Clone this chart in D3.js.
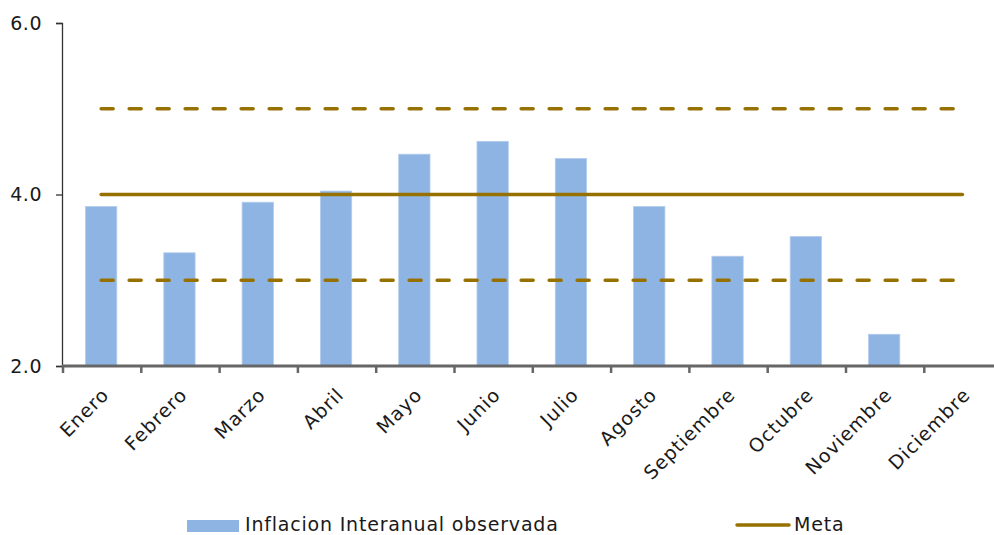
<!DOCTYPE html>
<html><head><meta charset="utf-8">
<script src="https://cdn.jsdelivr.net/npm/d3@7"></script>
<style>body{margin:0;background:#fff}svg{display:block}text{font-family:"DejaVu Sans",sans-serif;fill:#1a1a1a}</style>
</head><body><div id="chart"></div>
<script>
const months = ["Enero","Febrero","Marzo","Abril","Mayo","Junio","Julio","Agosto","Septiembre","Octubre","Noviembre","Diciembre"];
const inflacion = [3.86,3.32,3.91,4.04,4.47,4.62,4.42,3.86,3.28,3.51,2.37,2.0];
const meta = [4,4,4,4,4,4,4,4,4,4,4,4];
const upper = [5,5,5,5,5,5,5,5,5,5,5,5];
const lower = [3,3,3,3,3,3,3,3,3,3,3,3];
const yTicks = [2,4,6];
const seriesNames = ["Inflacion Interanual observada","Meta"];

const W=994,H=535;
const m={left:62,top:23,bottom:169};
const plotW=939.6, plotH=H-m.top-m.bottom;
const svg=d3.select("#chart").append("svg").attr("width",W).attr("height",H);

const x=d3.scaleBand().domain(months).range([m.left,m.left+plotW]).padding(0);
const y=d3.scaleLinear().domain([2,6]).range([m.top+plotH,m.top]);
const step=x.step(), bw=step*0.4;
const gold="#977100";

// bars
svg.append("g").selectAll("rect").data(months).join("rect")
  .attr("x",(d)=>x(d)+(step-bw)/2).attr("width",bw)
  .attr("y",(d,i)=>y(inflacion[i])).attr("height",(d,i)=>y(2)-y(inflacion[i]))
  .attr("fill","#8EB4E3").attr("stroke","#B4CCEC").attr("stroke-width",0.8);

const cx=d=>x(d)+step/2;
const line=arr=>d3.line().x((d,i)=>cx(months[i])).y(d=>y(d))(arr);
svg.append("path").attr("d",line(upper)).attr("fill","none").attr("stroke",gold).attr("stroke-width",3.5)
  .attr("stroke-dasharray","12 16").attr("stroke-linecap","round");
svg.append("path").attr("d",line(lower)).attr("fill","none").attr("stroke",gold).attr("stroke-width",3.5)
  .attr("stroke-dasharray","12 16").attr("stroke-linecap","round");
svg.append("path").attr("d",line(meta)).attr("fill","none").attr("stroke",gold).attr("stroke-width",3.5).attr("stroke-linecap","round");

// y axis
const ya=svg.append("g").attr("transform",`translate(${m.left},0)`)
  .call(d3.axisLeft(y).tickValues(yTicks).tickFormat(d3.format(".1f")).tickSize(6).tickPadding(14));
ya.select(".domain").attr("stroke","#333").attr("stroke-width",1.3);
ya.selectAll(".tick line").attr("stroke","#333").attr("stroke-width",1.3);
ya.selectAll("text").attr("font-size",19).attr("fill","#1a1a1a").attr("font-family","'DejaVu Sans',sans-serif").attr("letter-spacing",0.5);

// x axis
const xa=svg.append("g").attr("transform",`translate(0,${y(2)})`);
xa.append("line").attr("x1",m.left).attr("x2",m.left+plotW).attr("stroke","#666").attr("stroke-width",3);
xa.selectAll("line.t").data(months).join("line").attr("class","t")
  .attr("x1",d=>x(d)+1).attr("x2",d=>x(d)+1).attr("y1",0).attr("y2",7).attr("stroke","#666").attr("stroke-width",2.5);
xa.selectAll("text").data(months).join("text")
  .attr("transform",d=>`translate(${cx(d)+9},${30}) rotate(-45)`)
  .attr("text-anchor","end").attr("font-size",19).attr("letter-spacing",1).text(d=>d);

// legend
const lg=svg.append("g");
lg.append("rect").attr("x",187).attr("y",520).attr("width",52).attr("height",12).attr("fill","#8EB4E3");
lg.append("text").attr("x",245).attr("y",531).attr("font-size",19).attr("letter-spacing",0.8).text(seriesNames[0]);
lg.append("line").attr("x1",737).attr("x2",789).attr("y1",525).attr("y2",525).attr("stroke",gold).attr("stroke-width",3.5).attr("stroke-linecap","round");
lg.append("text").attr("x",794).attr("y",531).attr("font-size",19).attr("letter-spacing",0.8).text(seriesNames[1]);
</script></body></html>
